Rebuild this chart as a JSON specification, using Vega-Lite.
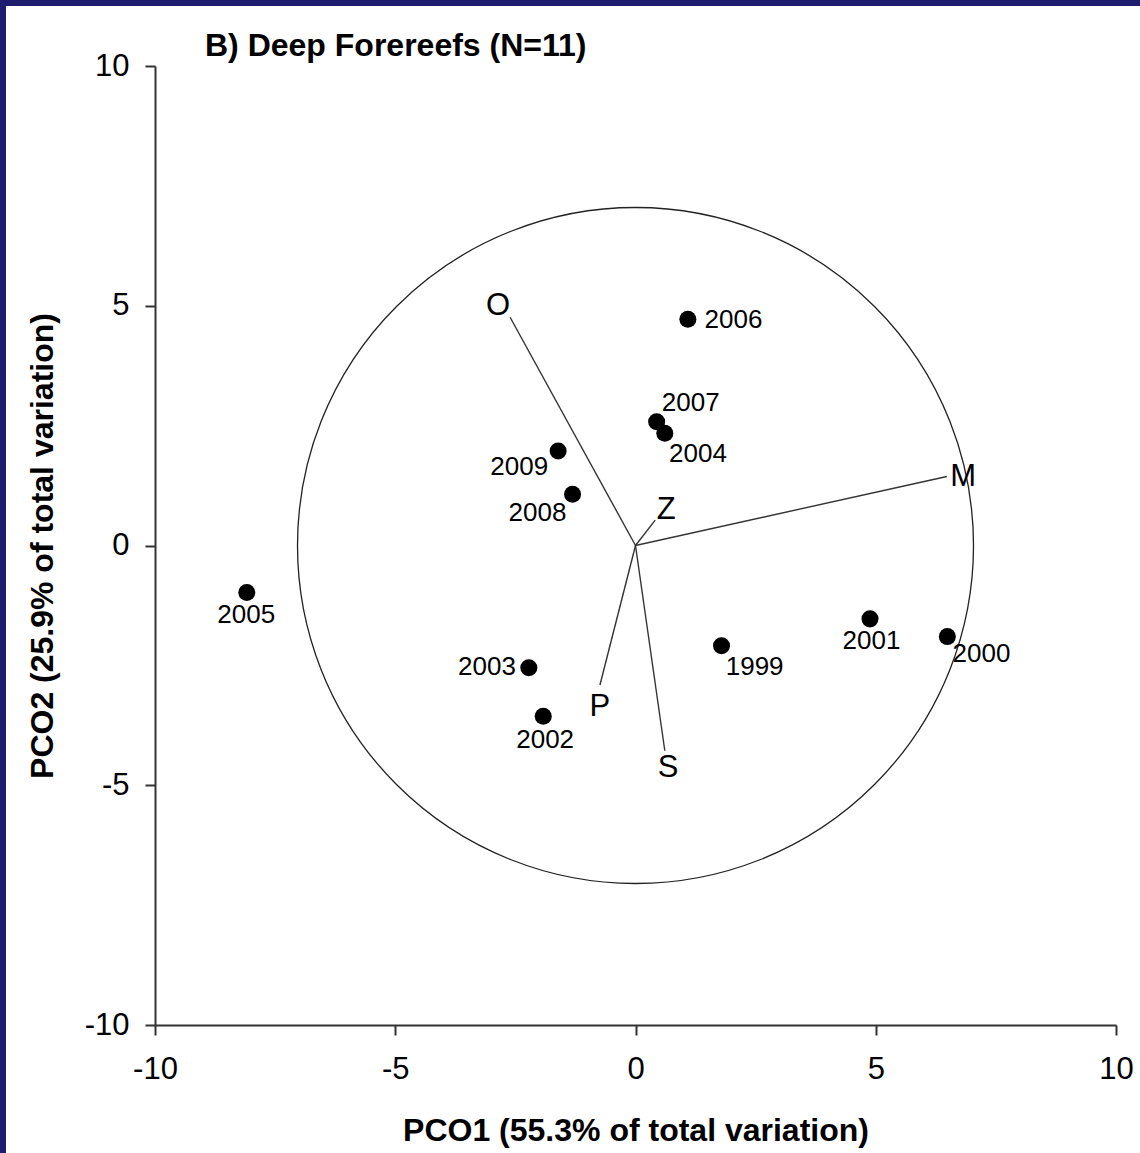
{
  "$schema": "https://vega.github.io/schema/vega-lite/v6.json",
  "autosize": {"type": "none"},
  "width": 1134,
  "height": 1147,
  "padding": {"left": 6, "top": 6, "right": 0, "bottom": 0},
  "background": "#1f1c6e",
  "config": {"view": {"fill": "white", "stroke": null}, "font": "Liberation Sans"},
  "title": {"text": "B) Deep Forereefs (N=11)", "anchor": "start", "frame": "group", "fontSize": 32, "fontWeight": "bold", "color": "black", "baseline": "alphabetic", "offset": 0, "dx": 199, "dy": 82},
  "datasets": {
    "years": [
      {"year": "1999", "x": 1.79, "y": -2.09, "lx": 2.48, "ly": -2.54},
      {"year": "2000", "x": 6.49, "y": -1.90, "lx": 7.20, "ly": -2.26},
      {"year": "2001", "x": 4.88, "y": -1.53, "lx": 4.91, "ly": -1.99},
      {"year": "2002", "x": -1.92, "y": -3.56, "lx": -1.88, "ly": -4.06},
      {"year": "2003", "x": -2.22, "y": -2.55, "lx": -3.09, "ly": -2.54},
      {"year": "2004", "x": 0.61, "y": 2.34, "lx": 1.30, "ly": 1.91},
      {"year": "2005", "x": -8.09, "y": -0.98, "lx": -8.10, "ly": -1.45},
      {"year": "2006", "x": 1.09, "y": 4.72, "lx": 2.04, "ly": 4.70},
      {"year": "2007", "x": 0.44, "y": 2.58, "lx": 1.15, "ly": 2.97},
      {"year": "2008", "x": -1.31, "y": 1.07, "lx": -2.04, "ly": 0.67},
      {"year": "2009", "x": -1.61, "y": 1.97, "lx": -2.42, "ly": 1.64}
    ],
    "vectors": [
      {"name": "O", "x": -2.61, "y": 4.76, "lx": -2.86, "ly": 5.00},
      {"name": "M", "x": 6.48, "y": 1.44, "lx": 6.82, "ly": 1.42},
      {"name": "Z", "x": 0.41, "y": 0.53, "lx": 0.64, "ly": 0.74},
      {"name": "P", "x": -0.74, "y": -2.91, "lx": -0.74, "ly": -3.37},
      {"name": "S", "x": 0.61, "y": -4.28, "lx": 0.68, "ly": -4.63}
    ]
  },
  "layer": [
    {
      "data": {"values": [{"cx": 0, "cy": 0}]},
      "mark": {"type": "point", "shape": "circle", "filled": false, "size": 456976, "stroke": "#222", "strokeWidth": 1.3, "opacity": 1},
      "encoding": {
        "x": {"field": "cx", "type": "quantitative",
          "scale": {"domain": [-10, 10], "range": [149, 1110], "nice": false, "zero": false},
          "axis": {"title": "PCO1 (55.3% of total variation)", "values": [-10, -5, 0, 5, 10], "offset": -128, "grid": false,
            "domainColor": "#333", "domainWidth": 2, "tickColor": "#333", "tickWidth": 2, "tickSize": 10,
            "labelFontSize": 31, "labelColor": "black", "labelPadding": 19, "labelFlush": false, "labelOverlap": false, "labelBound": false,
            "labelExpr": "'' + datum.value",
            "titleFontSize": 32, "titleFontWeight": "bold", "titleColor": "black", "titlePadding": 31}},
        "y": {"field": "cy", "type": "quantitative",
          "scale": {"domain": [-10, 10], "range": [1019, 60], "nice": false, "zero": false},
          "axis": {"title": "PCO2 (25.9% of total variation)", "values": [-10, -5, 0, 5, 10], "offset": -149, "grid": false,
            "domainColor": "#333", "domainWidth": 2, "tickColor": "#333", "tickWidth": 2, "tickSize": 10,
            "labelFontSize": 31, "labelColor": "black", "labelPadding": 16, "labelFlush": false, "labelOverlap": false, "labelBound": false,
            "labelExpr": "'' + datum.value",
            "titleFontSize": 32, "titleFontWeight": "bold", "titleColor": "black", "titlePadding": 25}}
      }
    },
    {
      "data": {"name": "vectors"},
      "mark": {"type": "rule", "color": "#333", "strokeWidth": 1.4},
      "encoding": {
        "x": {"field": "x", "type": "quantitative", "scale": {"domain": [-10, 10], "range": [149, 1110], "nice": false, "zero": false}},
        "y": {"field": "y", "type": "quantitative", "scale": {"domain": [-10, 10], "range": [1019, 60], "nice": false, "zero": false}},
        "x2": {"datum": 0},
        "y2": {"datum": 0}
      }
    },
    {
      "data": {"name": "years"},
      "mark": {"type": "circle", "size": 290, "color": "black", "opacity": 1},
      "encoding": {
        "x": {"field": "x", "type": "quantitative", "scale": {"domain": [-10, 10], "range": [149, 1110], "nice": false, "zero": false}},
        "y": {"field": "y", "type": "quantitative", "scale": {"domain": [-10, 10], "range": [1019, 60], "nice": false, "zero": false}}
      }
    },
    {
      "data": {"name": "years"},
      "mark": {"type": "text", "fontSize": 26, "color": "black", "align": "center", "baseline": "middle"},
      "encoding": {
        "x": {"field": "lx", "type": "quantitative", "scale": {"domain": [-10, 10], "range": [149, 1110], "nice": false, "zero": false}},
        "y": {"field": "ly", "type": "quantitative", "scale": {"domain": [-10, 10], "range": [1019, 60], "nice": false, "zero": false}},
        "text": {"field": "year"}
      }
    },
    {
      "data": {"name": "vectors"},
      "mark": {"type": "text", "fontSize": 31, "color": "black", "align": "center", "baseline": "middle"},
      "encoding": {
        "x": {"field": "lx", "type": "quantitative", "scale": {"domain": [-10, 10], "range": [149, 1110], "nice": false, "zero": false}},
        "y": {"field": "ly", "type": "quantitative", "scale": {"domain": [-10, 10], "range": [1019, 60], "nice": false, "zero": false}},
        "text": {"field": "name"}
      }
    }
  ]
}
